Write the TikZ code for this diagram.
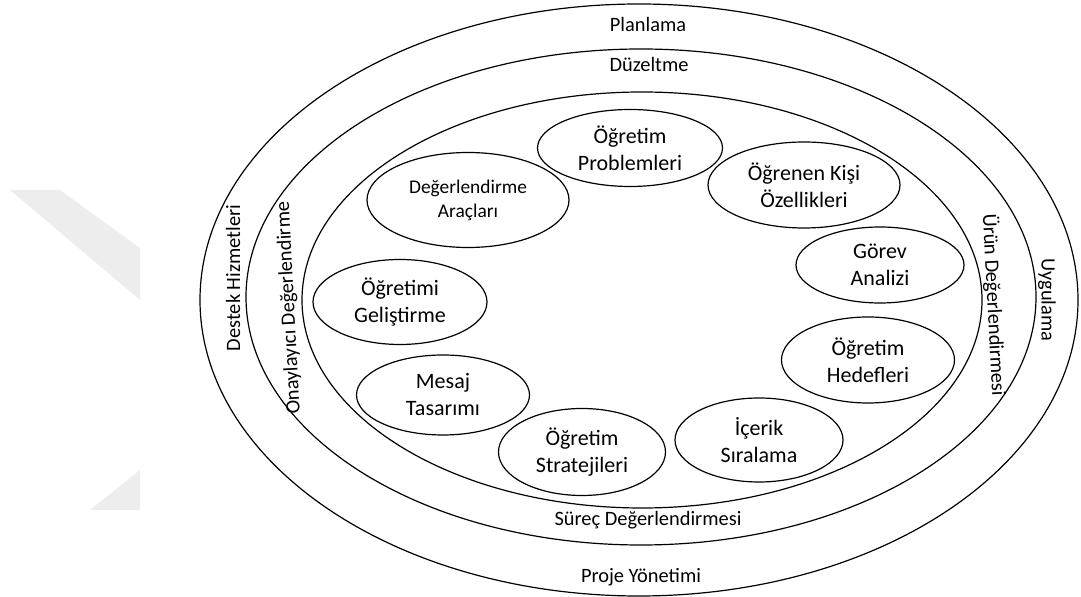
\documentclass[tikz,border=0pt]{standalone}
\usepackage{fontspec}
\setmainfont{Carlito}
\usetikzlibrary{shapes.geometric}

\begin{document}
\begin{tikzpicture}[x=0.5pt,y=-0.5pt,line width=0.6pt]
\tikzset{StepStyle/.style = {draw,ellipse,inner sep=0pt,align=center,
                             font=\fontsize{11}{13.5}\selectfont},
         RingLabel/.style = {inner sep=0pt,
                             font=\fontsize{10.2}{12}\selectfont}}
\useasboundingbox (0,0) rectangle (1081,597);
% faint watermark at the left
\fill[black!7] (10,190) -- (60,190) -- (140,248) -- (140,300) -- cycle;
\fill[black!7] (90,510) -- (140,470) -- (140,510) -- cycle;
% rings
\draw (639,300) ellipse [x radius=439, y radius=296];
\draw (641,297) ellipse [x radius=395, y radius=248];
\draw (642,300) ellipse [x radius=340, y radius=208];
% ring labels
\node[RingLabel] (plan) at (648,25) {Planlama};
\node[RingLabel] (duz) at (649,65) {Düzeltme};
\node[RingLabel] (surec) at (648,520) {Süreç Değerlendirmesi};
\node[RingLabel] (proje) at (641,577) {Proje Yönetimi};
\node[RingLabel,rotate=90] (destek) at (233,278) {Destek Hizmetleri};
\node[RingLabel,rotate=93] (onay) at (289,308) {Onaylayıcı Değerlendirme};
\node[RingLabel,rotate=-87] (urun) at (994,305) {Ürün Değerlendirmesi};
\node[RingLabel,rotate=-90] (uyg) at (1047,300) {Uygulama};
% steps
\node[StepStyle,minimum width=92.5pt,minimum height=38.5pt] (prob) at (630,148) {Öğretim\\Problemleri};
\node[StepStyle,minimum width=96pt,minimum height=43pt] (ogren) at (804,185) {Öğrenen Kişi\\Özellikleri};
\node[StepStyle,minimum width=84pt,minimum height=38pt] (gorev) at (880,265) {Görev\\Analizi};
\node[StepStyle,minimum width=86.5pt,minimum height=43pt] (hedef) at (868,360) {Öğretim\\Hedefleri};
\node[StepStyle,minimum width=84pt,minimum height=42pt] (icerik) at (759,440) {İçerik\\Sıralama};
\node[StepStyle,minimum width=83.5pt,minimum height=43.5pt] (strat) at (582,452) {Öğretim\\Stratejileri};
\node[StepStyle,minimum width=86.5pt,minimum height=40pt] (mesaj) at (443,395) {Mesaj\\Tasarımı};
\node[StepStyle,minimum width=87pt,minimum height=42.5pt] (gelis) at (400,302) {Öğretimi\\Geliştirme};
\node[StepStyle,minimum width=101pt,minimum height=47.5pt,
      font=\fontsize{9.7}{12}\selectfont] (arac) at (468,200) {Değerlendirme\\Araçları};
\end{tikzpicture}
\end{document}
